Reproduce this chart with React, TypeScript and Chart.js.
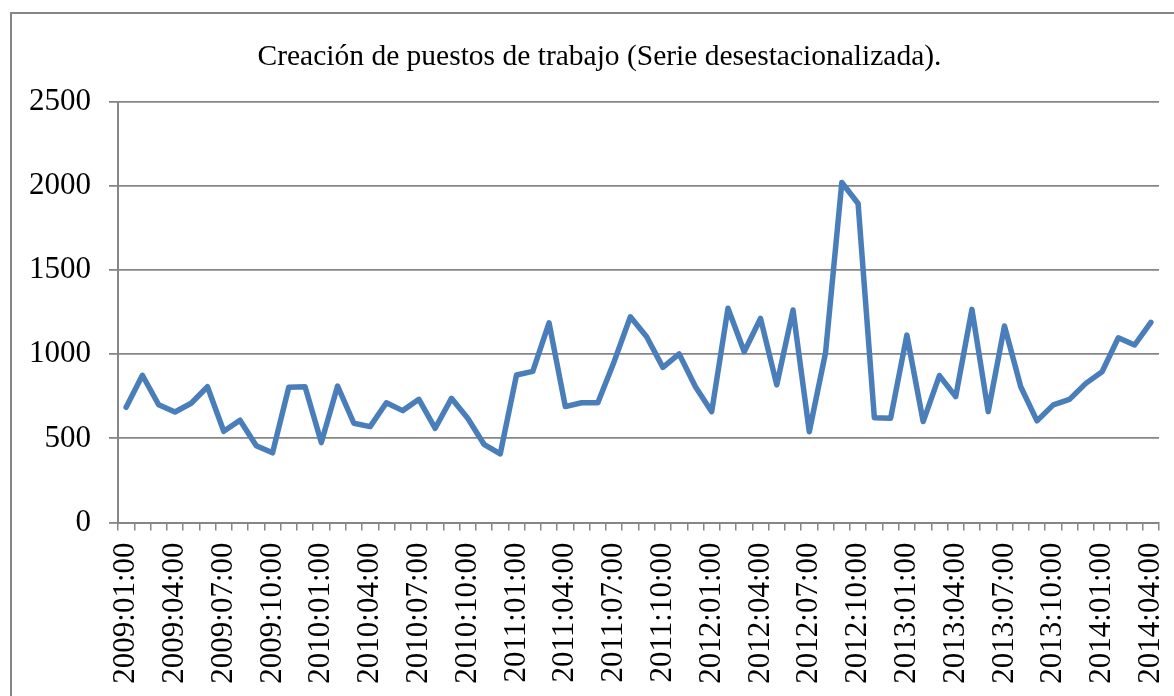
import React, { useEffect, useRef } from "react";
import { Chart, registerables } from "chart.js";

Chart.register(...registerables);

const TITLE = "Creación de puestos de trabajo (Serie desestacionalizada).";

const months: string[] = [
  "2009:01:00", "2009:02:00", "2009:03:00", "2009:04:00", "2009:05:00", "2009:06:00",
  "2009:07:00", "2009:08:00", "2009:09:00", "2009:10:00", "2009:11:00", "2009:12:00",
  "2010:01:00", "2010:02:00", "2010:03:00", "2010:04:00", "2010:05:00", "2010:06:00",
  "2010:07:00", "2010:08:00", "2010:09:00", "2010:10:00", "2010:11:00", "2010:12:00",
  "2011:01:00", "2011:02:00", "2011:03:00", "2011:04:00", "2011:05:00", "2011:06:00",
  "2011:07:00", "2011:08:00", "2011:09:00", "2011:10:00", "2011:11:00", "2011:12:00",
  "2012:01:00", "2012:02:00", "2012:03:00", "2012:04:00", "2012:05:00", "2012:06:00",
  "2012:07:00", "2012:08:00", "2012:09:00", "2012:10:00", "2012:11:00", "2012:12:00",
  "2013:01:00", "2013:02:00", "2013:03:00", "2013:04:00", "2013:05:00", "2013:06:00",
  "2013:07:00", "2013:08:00", "2013:09:00", "2013:10:00", "2013:11:00", "2013:12:00",
  "2014:01:00", "2014:02:00", "2014:03:00", "2014:04:00",
];

const jobs2009: number[] = [685, 875, 700, 657, 709, 807, 542, 608, 456, 414, 804, 807];
const jobs2010: number[] = [475, 811, 590, 570, 712, 665, 732, 560, 738, 620, 465, 408];
const jobs2011: number[] = [877, 898, 1187, 689, 712, 712, 956, 1223, 1104, 922, 1002, 807];
const jobs2012: number[] = [659, 1273, 1015, 1213, 818, 1263, 540, 1010, 2021, 1896, 623, 620];
const jobs2013: number[] = [1114, 600, 873, 748, 1267, 659, 1168, 807, 604, 699, 732, 827];
const jobs2014: number[] = [896, 1098, 1055, 1190];

const yMin = 0;
const yMax = 2500;
const yStep = 500;

const GRID = "#868686";
const LINE = "#4a7ebb";
const FONT = "'Liberation Serif', 'Times New Roman', serif";

// Centre the title box on the frame as in the reference.
const titleCentre = {
  id: "titleCentre",
  afterLayout(chart: any) {
    const tb = chart.titleBlock;
    if (tb) {
      tb.left = 0;
      tb.right = 1175;
    }
  },
};

export default function App() {
  const canvasRef = useRef<HTMLCanvasElement | null>(null);

  useEffect(() => {
    const canvas = canvasRef.current;
    if (!canvas) return;
    const values = [...jobs2009, ...jobs2010, ...jobs2011, ...jobs2012, ...jobs2013, ...jobs2014];
    const chart = new Chart(canvas, {
      type: "line",
      data: {
        labels: months,
        datasets: [
          {
            label: "Creación de puestos de trabajo",
            data: values,
            borderColor: LINE,
            backgroundColor: LINE,
            borderWidth: 5.5,
            borderJoinStyle: "round",
            borderCapStyle: "round",
            pointRadius: 0,
            pointHoverRadius: 0,
            tension: 0,
            fill: false,
          },
        ],
      },
      plugins: [titleCentre],
      options: {
        responsive: false,
        animation: false,
        layout: { padding: { left: 0, right: 53, top: 0, bottom: 0 } },
        plugins: {
          legend: { display: false },
          tooltip: { enabled: false },
          title: {
            display: true,
            text: TITLE,
            color: "#000000",
            font: { family: FONT, size: 29.5, weight: "normal" },
            padding: { top: 26, bottom: 26.5 },
          },
        },
        scales: {
          x: {
            type: "category",
            offset: true,
            afterFit: (scale: any) => {
              scale.height = 231.5;
            },
            grid: {
              offset: true,
              drawOnChartArea: false,
              drawTicks: true,
              tickLength: 8,
              color: GRID,
              lineWidth: 1.5,
            },
            border: { display: true, color: GRID, width: 2 },
            ticks: {
              autoSkip: false,
              minRotation: 90,
              maxRotation: 90,
              padding: 12,
              color: "#000000",
              font: { family: FONT, size: 31 },
              callback: (_v: any, i: number) => (i % 3 === 0 ? months[i] : ""),
            },
          },
          y: {
            min: yMin,
            max: yMax,
            afterFit: (scale: any) => {
              scale.width = 106;
            },
            grid: {
              drawTicks: true,
              tickLength: 9,
              color: GRID,
              lineWidth: 1.8,
            },
            border: { display: true, color: GRID, width: 2 },
            ticks: {
              stepSize: yStep,
              padding: 18,
              color: "#000000",
              font: { family: FONT, size: 31 },
              callback: (v: any) => String(v),
            },
          },
        },
      },
    });
    return () => chart.destroy();
  }, []);

  return (
    <div
      style={{
        position: "fixed",
        left: 0,
        top: 0,
        width: 1174,
        height: 696,
        overflow: "hidden",
        background: "#ffffff",
      }}
    >
      <div
        style={{
          position: "absolute",
          left: 10,
          top: 12,
          border: "2px solid #868686",
          width: 1200,
          height: 740,
          background: "#ffffff",
        }}
      >
        <canvas ref={canvasRef} width={1200} height={740} style={{ display: "block" }} />
      </div>
    </div>
  );
}
